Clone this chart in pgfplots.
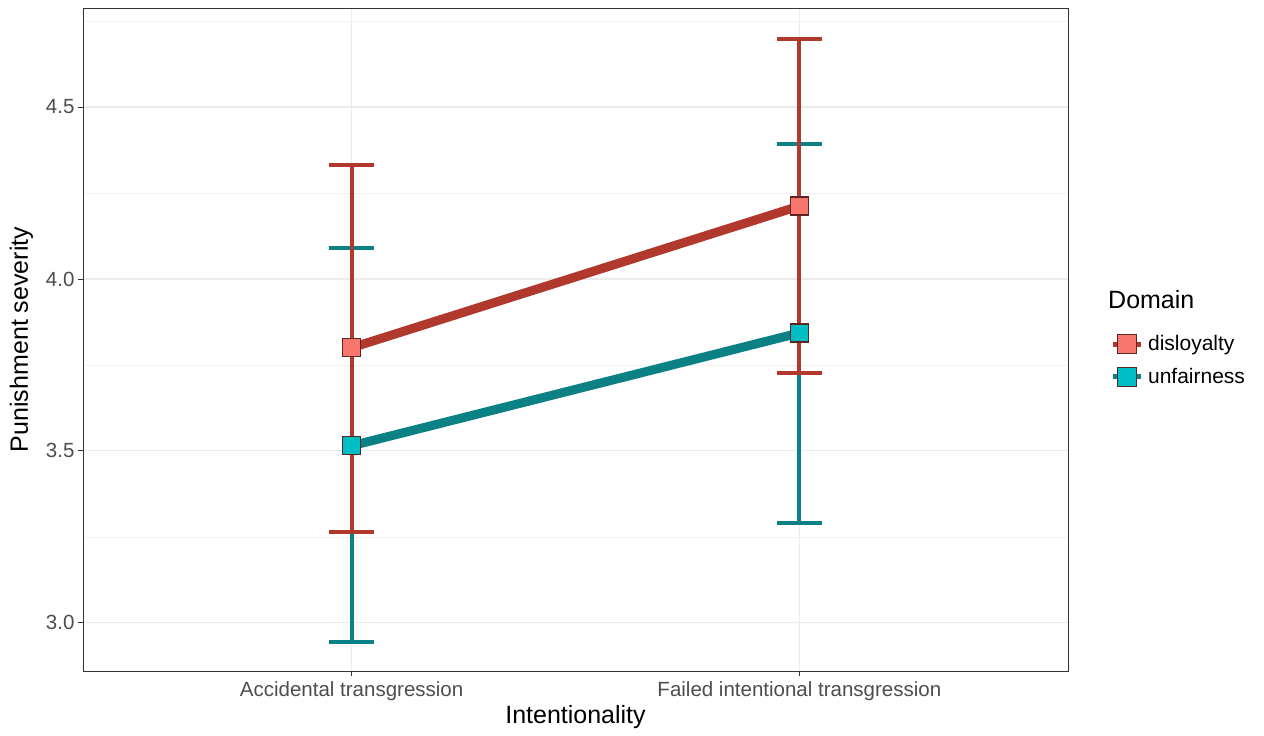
\documentclass[border=0pt]{standalone}
\usepackage{fontspec}
\setmainfont{Liberation Sans}
\usepackage{pgfplots}
\pgfplotsset{compat=1.18}
\usepackage{pgfplotstable}
\definecolor{redline}{HTML}{B0382C}
\definecolor{redfill}{HTML}{F8766D}
\definecolor{tealline}{HTML}{0B8185}
\definecolor{tealfill}{HTML}{00BFC4}
\definecolor{mborder}{HTML}{5E2424}
\definecolor{ticktext}{HTML}{4D4D4D}
\definecolor{gridc}{HTML}{EBEBEB}

\pgfplotstableread{
x y hi lo
1 3.800 4.331 3.265
2 4.212 4.698 3.727
}\disloyalty
\pgfplotstableread{
x y hi lo
1 3.515 4.090 2.945
2 3.843 4.392 3.291
}\unfairness

\begin{document}
\begin{tikzpicture}
\useasboundingbox (-83bp,-65bp) rectangle (1181bp,671bp);
\begin{axis}[
  at={(0,0)}, anchor=south west,
  scale only axis, width=985bp, height=663bp,
  xmin=0.4, xmax=2.6, ymin=2.86, ymax=4.788,
  xtick={1,2},
  xticklabels={Accidental transgression, Failed intentional transgression},
  ytick={3,3.5,4,4.5},
  minor ytick={3.25,3.75,4.25,4.75},
  xtick pos=bottom, ytick pos=left,
  yticklabel style={/pgf/number format/.cd, fixed, fixed zerofill, precision=1, assume math mode=true},
  grid=both,
  major grid style={color=gridc, line width=1.1bp},
  minor grid style={color=gridc!70, line width=0.6bp},
  axis line style={color=black!80, line width=0.9bp},
  tick align=outside,
  major tick length=5bp, minor tick length=0bp,
  tick style={color=black!80, line width=0.9bp},
  ticklabel style={font=\fontsize{20.5bp}{24bp}\selectfont, color=ticktext},
  xticklabel style={yshift=-2bp},
  xlabel={Intentionality},
  ylabel={Punishment severity},
  label style={font=\fontsize{25bp}{30bp}\selectfont},
  xlabel style={yshift=2bp},
  ylabel style={yshift=6bp},
  clip=false,
  legend style={at={(axis description cs:1.0395,0.512)}, anchor=north west, draw=none, fill=none,
    font=\fontsize{21bp}{25bp}\selectfont, row sep=12bp,
    nodes={inner xsep=5bp}},
  legend cell align=left,
]
% error bars
\addplot[draw=none, mark=none, forget plot,
  error bars/.cd, y dir=both, y explicit,
  error bar style={line width=4bp, color=tealline},
  error mark options={line width=4bp, color=tealline, mark size=22.5bp, rotate=90}]
  table[x=x, y=y, y error plus expr=\thisrow{hi}-\thisrow{y}, y error minus expr=\thisrow{y}-\thisrow{lo}] {\unfairness};
\addplot[draw=none, mark=none, forget plot,
  error bars/.cd, y dir=both, y explicit,
  error bar style={line width=4bp, color=redline},
  error mark options={line width=4bp, color=redline, mark size=22.5bp, rotate=90}]
  table[x=x, y=y, y error plus expr=\thisrow{hi}-\thisrow{y}, y error minus expr=\thisrow{y}-\thisrow{lo}] {\disloyalty};
% lines
\addplot[tealline, line width=9bp, mark=none, forget plot] table[x=x, y=y] {\unfairness};
\addplot[redline, line width=9bp, mark=none, forget plot] table[x=x, y=y] {\disloyalty};
% points
\addplot[only marks, mark=square*, mark size=9bp, mark options={fill=tealfill, draw=mborder, line width=1.2bp}, forget plot] table[x=x, y=y] {\unfairness};
\addplot[only marks, mark=square*, mark size=9bp, mark options={fill=redfill, draw=mborder, line width=1.2bp}, forget plot] table[x=x, y=y] {\disloyalty};
% legend
\addlegendimage{legend image code/.code={
  \draw[redline, line width=5bp] (0bp,0bp) -- (28bp,0bp);
  \draw[fill=redfill, draw=mborder, line width=1.2bp] (4.5bp,-9.5bp) rectangle (23.5bp,9.5bp);}}
\addlegendentry{disloyalty}
\addlegendimage{legend image code/.code={
  \draw[tealline, line width=5bp] (0bp,0bp) -- (28bp,0bp);
  \draw[fill=tealfill, draw=mborder, line width=1.2bp] (4.5bp,-9.5bp) rectangle (23.5bp,9.5bp);}}
\addlegendentry{unfairness}
\node[anchor=west, font=\fontsize{25bp}{30bp}\selectfont, inner sep=0pt] at (axis description cs:1.0406,0.56) {Domain};
\end{axis}
\end{tikzpicture}
\end{document}
